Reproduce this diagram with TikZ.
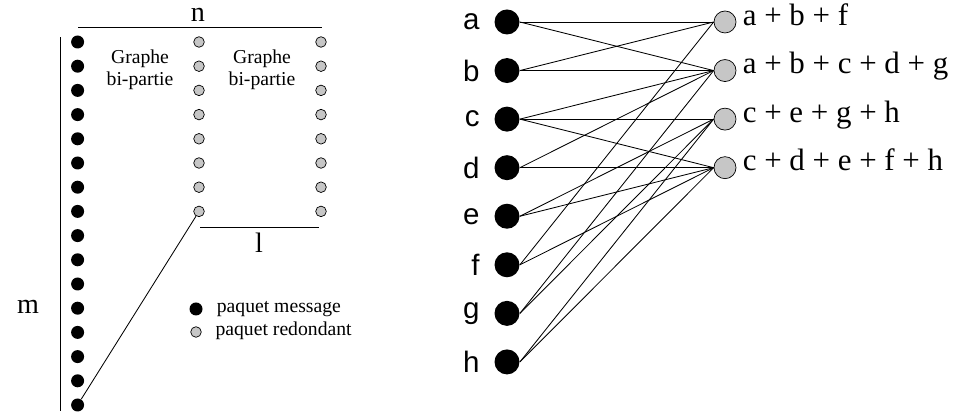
\documentclass[tikz,border=0pt]{standalone}
\usepackage{fontspec}
\setmainfont{Liberation Serif}
\setsansfont{Liberation Sans}
\usetikzlibrary{positioning}
\begin{document}
\begin{tikzpicture}[
    line width=0.6pt,
    msgdot/.style={fill=black, circle, inner sep=0pt, minimum size=#1},
    msgdot/.default=0.325cm,
    reddot/.style={draw, fill=gray!45, circle, inner sep=0pt, line width=0.5pt, minimum size=#1},
    reddot/.default=0.265cm,
    small/.style={font=\fontsize{14}{16}\selectfont},
    dim/.style={font=\fontsize{20}{22}\selectfont, inner sep=1pt},
    letter/.style={font=\sffamily\fontsize{21}{24}\selectfont, inner sep=0pt},
    sumlab/.style={font=\fontsize{22}{26}\selectfont, inner sep=0pt}
]
\useasboundingbox (0,0) rectangle (23.825,10.375);
\begin{scope}[]

    % m x n
    \draw (1.5,0.1) -- (1.5,9.45);
    \draw (1.95,9.7) -- (8.05,9.7);
    \node[dim] (n) at (4.95,10.0) {n};
    \node[dim] (m) at (0.7,2.7) {m};

    \foreach \k in {0,...,15}
        \node[msgdot] (m\k) at (1.94,{0.25+0.605*\k}) {};
    \foreach \k in {8,...,15} {
        \node[reddot] (r\k) at (4.975,{0.25+0.605*\k}) {};
        \node[reddot] (s\k) at (8.025,{0.25+0.605*\k}) {};
    }
    \draw (r8) -- (m0);

    \draw (5.0,4.7) -- (7.975,4.7);
    \node[dim] (l) at (6.475,4.3) {l};

    \node[small, align=center] (g1) at (3.5,8.625) {Graphe\\bi-partie};
    \node[small, align=center] (g2) at (6.55,8.625) {Graphe\\bi-partie};

    % legende
    \node[msgdot] (lm) at (4.9,2.65) {};
    \node[reddot] (lr) at (4.9,2.075) {};
    \node[small, right=0.22cm of lm, anchor=mid west] (tm) {paquet message};
    \node[small, right=0.22cm of lr, anchor=mid west] (tr) {paquet redondant};
\end{scope}

\begin{scope}[]
    \foreach \l [count=\i from 0] in {a,b,c,d,e,f,g,h} {
        \node[msgdot=0.625cm] (\l) at (12.675,{9.825-1.214*\i}) {};
        \node[letter, left=0.35cm of \l] (t\l) {\l};
    }
    \foreach \s [count=\i from 0] in {a + b + f, a + b + c + d + g, c + e + g + h, c + d + e + f + h} {
        \node[reddot=0.55cm] (p\i) at (18.125,{9.825-1.214*\i}) {};
        \node[sumlab, right=0.15cm of p\i, anchor=mid west] (q\i) {\s};
    }

    \foreach \s/\t in {a/p0,b/p0,f/p0,a/p1,b/p1,c/p1,d/p1,g/p1,c/p2,e/p2,g/p2,h/p2,c/p3,d/p3,e/p3,f/p3,h/p3}
        \draw (\s.east) -- (\t.west);
\end{scope}

\end{tikzpicture}
\end{document}
